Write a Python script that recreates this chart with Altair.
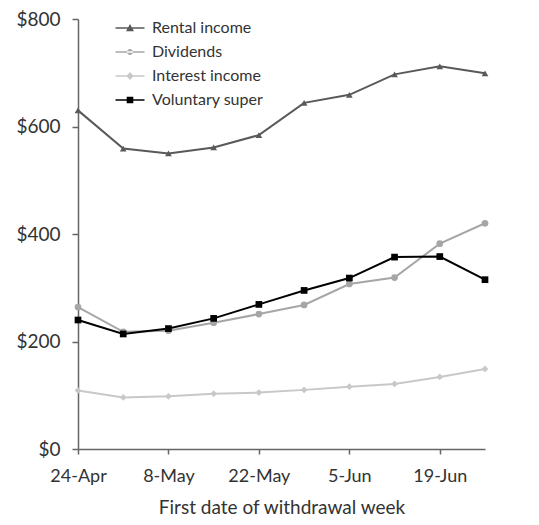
import altair as alt
import pandas as pd

dates = ["2020-04-24", "2020-05-01", "2020-05-08", "2020-05-15", "2020-05-22",
         "2020-05-29", "2020-06-05", "2020-06-12", "2020-06-19", "2020-06-26"]
series = ["Rental income", "Dividends", "Interest income", "Voluntary super"]
rental = [630, 559, 550, 561, 584, 644, 659, 697, 712, 699]
dividends = [264, 218, 220, 235, 251, 268, 307, 319, 382, 420]
interest = [109, 96, 98, 103, 105, 110, 116, 121, 134, 149]
voluntary = [240, 214, 224, 243, 269, 295, 318, 357, 358, 315]
colors = ["#595959", "#a6a6a6", "#c8c8c8", "#000000"]
tick_dates = ["2020-04-24", "2020-05-08", "2020-05-22", "2020-06-05", "2020-06-19"]

rows = []
for name, vals in zip(series, [rental, dividends, interest, voluntary]):
    for d, v in zip(dates, vals):
        rows.append({"date": d + "T00:00:00", "series": name, "value": v})
df = pd.DataFrame(rows)

FONT = "Lato"

x_enc = alt.X("date:T",
              scale=alt.Scale(domain=[alt.DateTime(year=2020, month=4, date=24),
                                      alt.DateTime(year=2020, month=6, date=26)]),
              axis=alt.Axis(title="First date of withdrawal week", format="%-d-%b",
                            values=[alt.DateTime(year=2020, month=int(t[5:7]), date=int(t[8:10])) for t in tick_dates],
                            labelFlush=False, grid=False, tickSize=5,
                            labelFontSize=18, titleFontSize=19,
                            labelPadding=13, titlePadding=13))
y_enc = alt.Y("value:Q", scale=alt.Scale(domain=[0, 800], nice=False),
              axis=alt.Axis(title=None, format="$,.0f", values=[0, 200, 400, 600, 800],
                            grid=False, tickSize=6, labelPadding=12, labelFontSize=19))
color_scale = alt.Scale(domain=series, range=colors)

lines = alt.Chart(df).mark_line(strokeWidth=2).encode(
    x=x_enc, y=y_enc,
    color=alt.Color("series:N", scale=color_scale, legend=None),
    detail="series:N",
)
points = alt.Chart(df).mark_point(filled=True, opacity=1, size=45).encode(
    x=x_enc, y=y_enc,
    color=alt.Color("series:N", scale=color_scale, legend=None),
    shape=alt.Shape("series:N", scale=alt.Scale(domain=series,
                    range=["triangle-up", "circle", "diamond", "square"]), legend=None),
)

bar = "M-1.45,-0.065H1.45V0.065H-1.45Z "
legend_paths = [
    bar + "M-0.4,0.32L0,-0.4L0.4,0.32Z",
    bar + "M-0.3,0A0.3,0.3 0 1,0 0.3,0A0.3,0.3 0 1,0 -0.3,0Z",
    bar + "M0,-0.4L0.36,0L0,0.4L-0.36,0Z",
    bar + "M-0.33,-0.33H0.33V0.33H-0.33Z",
]
leg = dict(title=None, orient="none", legendX=42, legendY=-1,
           labelFont=FONT, labelFontSize=16, labelColor="#333333",
           symbolSize=400, symbolStrokeWidth=0, rowPadding=6,
           labelOffset=12, padding=0, symbolOpacity=1)
legend_layer = alt.Chart(df).transform_filter("datum.value < 0").mark_point(
    filled=True, opacity=1).encode(
    x=x_enc, y=y_enc,
    color=alt.Color("series:N", scale=alt.Scale(domain=series, range=colors),
                    legend=alt.Legend(**leg)),
    shape=alt.Shape("series:N", scale=alt.Scale(domain=series, range=legend_paths),
                    legend=alt.Legend(**leg)),
)

chart = alt.layer(lines, points, legend_layer).resolve_scale(
    color="independent", shape="independent"
).properties(
    width=407, height=430,
    autosize=alt.AutoSizeParams(type="none"),
    padding={"left": 70, "top": 11, "right": 46, "bottom": 68},
).configure_view(stroke=None).configure_axis(
    labelFont=FONT, titleFont=FONT,
    labelColor="#333333", titleColor="#333333", titleFontWeight="normal",
    domainColor="#666666", tickColor="#666666", domainWidth=1.5, tickWidth=1.5,
)

chart.save("out.html", embed_options={"renderer": "svg", "actions": False})
